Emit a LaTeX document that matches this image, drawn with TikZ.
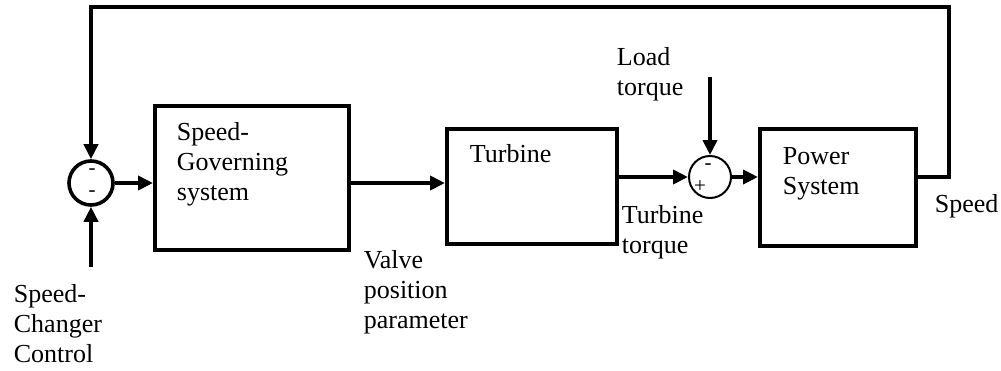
\documentclass[tikz,border=0pt]{standalone}
\usepackage{fontspec}
\setmainfont{Liberation Serif}
\usetikzlibrary{arrows.meta}

\begin{document}
\begin{tikzpicture}[x=0.5pt, y=-0.5pt, >={Triangle[length=7.5pt,width=7pt]},
    line width=1.9pt, font=\fontsize{13}{15}\selectfont]
  \tikzstyle{blk}=[draw, line width=1.9pt, inner sep=0pt, anchor=north west]
  \tikzstyle{sum}=[circle, draw, inner sep=0pt]
  \tikzstyle{txt}=[align=left, inner sep=0pt, anchor=base west]
  \tikzstyle{sgn}=[inner sep=0pt, font=\fontsize{10.5}{12}\selectfont]

  \useasboundingbox (0,0) rectangle (1001,370);

  \node[blk, minimum width=97pt, minimum height=72pt] (G) at (153,104) {};
  \node[blk, minimum width=85pt, minimum height=57.5pt] (T) at (445,127) {};
  \node[blk, minimum width=78pt, minimum height=58.5pt] (P) at (758,127) {};
  \node[sum, minimum size=22pt, line width=1.8pt] (S1) at (91,183) {};
  \node[sum, minimum size=21pt, line width=1pt] (S2) at (710,177) {};

  % base of a multi-line node is its last line
  \node[txt] (Gt) at (175,200) {Speed-\\Governing\\system};
  \node[txt] (Tt) at (468,162) {Turbine};
  \node[txt] (Pt) at (781,194) {Power\\System};
  \node[txt] (ld) at (615,95) {Load\\torque};
  \node[txt] (tq) at (620,253) {Turbine\\torque};
  \node[txt] (vp) at (362,328) {Valve\\position\\parameter};
  \node[txt] (sc) at (12,362) {Speed-\\Changer\\Control};
  \node[txt] (sp) at (933,212) {Speed};

  \node[sgn] (m1) at (92,172) {-};
  \node[sgn] (m2) at (92,194) {-};
  \node[sgn] (m3) at (708,167) {-};
  \node[sgn] (p3) at (700,187) {+};

  \coordinate (top) at (949,7);
  \coordinate (load) at (710,77);
  \coordinate (chg) at (91,267);

  \draw[->] (S1.east) -- (S1.east -| G.west);
  \draw[->] (G.east |- S1) -- (T.west |- S1);
  \draw[->] (T.east |- S2) -- (S2.west);
  \draw[->] (S2.east) -- (S2.east -| P.west);
  \draw[->] (P.east |- S2) -| (top) -| (S1.north);
  \draw[->] (load) -- (S2.north);
  \draw[->] (chg) -- (S1.south);
\end{tikzpicture}
\end{document}
